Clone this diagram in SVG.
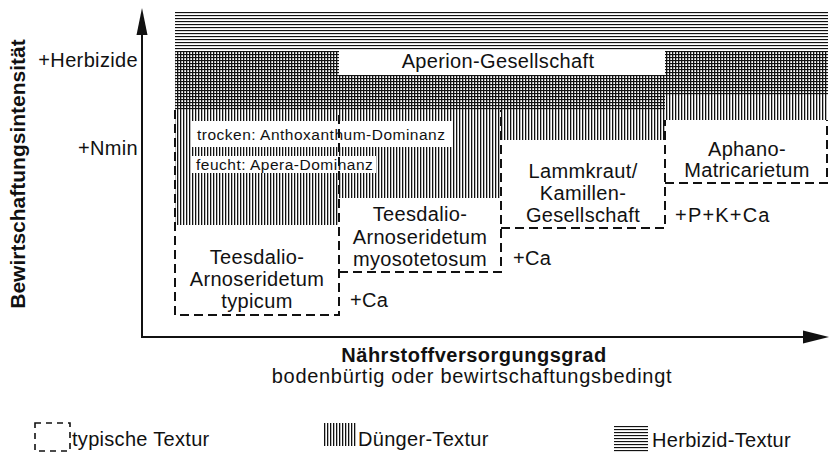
<svg xmlns="http://www.w3.org/2000/svg" width="831" height="453" viewBox="0 0 831 453">
<style>
.t{font-family:"Liberation Sans",Arial,sans-serif;font-size:20px;letter-spacing:0.35px;fill:#111}
.s{font-size:15.5px;letter-spacing:0.5px}
.b{font-weight:bold}
.m{text-anchor:middle}
.e{text-anchor:end}
.d{fill:none;stroke:#111;stroke-width:2;stroke-dasharray:9 5}
.ax{fill:none;stroke:#111;stroke-width:2}
</style>
<defs>
<pattern id="herb" width="3" height="3" patternUnits="userSpaceOnUse"><rect x="0" y="0" width="3" height="1.15" fill="#111"/></pattern>
<pattern id="dung" width="3" height="3" patternUnits="userSpaceOnUse"><rect x="0" y="0" width="1.3" height="3" fill="#111"/></pattern>
</defs>
<rect width="831" height="453" fill="#fff"/>
<g id="textures">
<path d="M175,12 H828 V95 H665 V110 H175 Z" fill="url(#herb)"/>
<path d="M175,52 H339 V75 H665 V52 H828 V120 H665 V140 H501 V198 H339 V225 H175 Z" fill="url(#dung)"/>
<rect x="339" y="51" width="326" height="24" fill="#fff"/>
</g>
<g id="aperion">
<text class="t m" x="498" y="68">Aperion-Gesellschaft</text>
</g>
<g id="dominanz">
<rect x="192" y="121" width="260" height="26" fill="#fff"/>
<text class="t s" x="197" y="140">trocken: Anthoxanthum-Dominanz</text>
<rect x="192" y="156" width="184" height="17" fill="#fff"/>
<text class="t s" x="196" y="169.5">feucht: Apera-Dominanz</text>
</g>
<g id="typicum">
<path class="d" d="M175,110 V315 H339 V110"/>
<text class="t m" x="257" y="264">Teesdalio-</text>
<text class="t m" x="257" y="286">Arnoseridetum</text>
<text class="t m" x="257" y="308">typicum</text>
</g>
<g id="myosotetosum">
<path class="d" d="M339,272 H501 V110"/>
<text class="t m" x="420" y="221">Teesdalio-</text>
<text class="t m" x="420" y="243.5">Arnoseridetum</text>
<text class="t m" x="420" y="266">myosotetosum</text>
</g>
<g id="lammkraut">
<path class="d" d="M501,228 H665 V120"/>
<text class="t m" x="583" y="178">Lammkraut/</text>
<text class="t m" x="583" y="200">Kamillen-</text>
<text class="t m" x="583" y="222">Gesellschaft</text>
</g>
<g id="aphano">
<path class="d" d="M665,183 H827 V120"/>
<text class="t m" x="747" y="156">Aphano-</text>
<text class="t m" x="747" y="177">Matricarietum</text>
</g>
<g id="additions">
<text class="t" x="350" y="307">+Ca</text>
<text class="t" x="513" y="265">+Ca</text>
<text class="t" x="675" y="222" style="letter-spacing:1.2px">+P+K+Ca</text>
<text class="t e" x="138" y="67">+Herbizide</text>
<text class="t e" x="138" y="155">+Nmin</text>
</g>
<g id="connectors">
<path class="ax" d="M142,34 V337 H805"/>
<polygon points="142,8 136.5,35 147.5,35" fill="#111"/>
<polygon points="829,337 803,330.5 803,343.5" fill="#111"/>
</g>
<g id="axis-labels">
<text class="t b" transform="translate(25,174) rotate(-90)" text-anchor="middle" style="font-size:21px;letter-spacing:0">Bewirtschaftungsintensität</text>
<text class="t b m" x="474" y="362" style="letter-spacing:0.5px">Nährstoffversorgungsgrad</text>
<text class="t m" x="472" y="383" style="letter-spacing:0.7px">bodenbürtig oder bewirtschaftungsbedingt</text>
</g>
<g id="legend">
<rect class="d" x="35" y="423" width="35" height="28" style="stroke-width:1.6;stroke-dasharray:6 5"/>
<text class="t" x="72" y="446" style="letter-spacing:0.3px">typische Textur</text>
<rect x="323" y="423" width="33" height="23" fill="url(#dung)"/>
<text class="t" x="358" y="446" style="letter-spacing:0.3px">Dünger-Textur</text>
<rect x="614" y="425" width="34" height="27" fill="url(#herb)"/>
<text class="t" x="652" y="447" style="letter-spacing:0.3px">Herbizid-Textur</text>
</g>
</svg>
